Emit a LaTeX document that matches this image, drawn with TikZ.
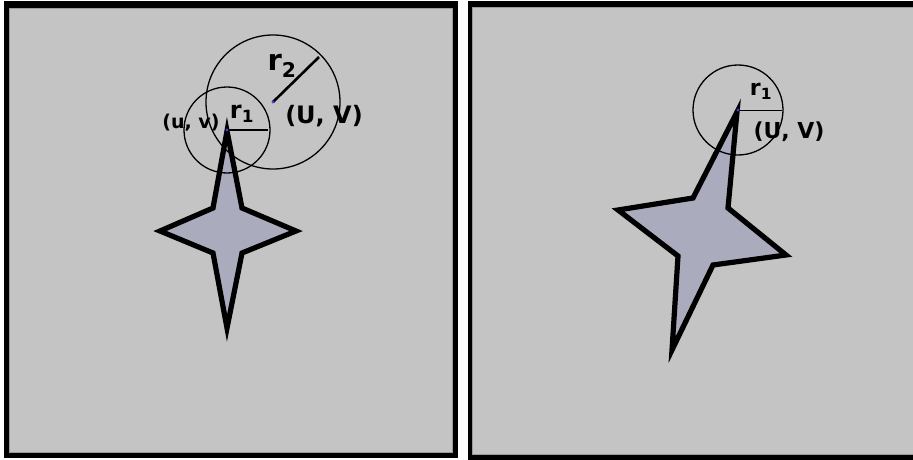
\documentclass[tikz,border=0pt]{standalone}
\usepackage{fontspec}
\setmainfont{DejaVu Sans}
\usetikzlibrary{calc}

\definecolor{panelgray}{HTML}{C4C4C4}
\definecolor{panelrim}{HTML}{9A9A9A}
\definecolor{starfill}{HTML}{AAABBC}
\definecolor{dotblue}{HTML}{4040E0}

\tikzset{
  frame/.style={fill=black},
  panel/.style={fill=panelgray,draw=panelrim,line width=0.8pt},
  star/.style={draw=black,fill=starfill,line width=5.2pt,line join=miter},
  ring/.style={draw=black,line width=1.3pt},
  rline/.style={draw=black,line width=2.6pt},
  thinrline/.style={draw=black,line width=1pt},
  dot/.style={fill=dotblue},
  lbl/.style={inner sep=0pt,font=\bfseries}
}

\begin{document}
\begin{tikzpicture}[x=1pt,y=-1pt]
  \useasboundingbox[fill=white] (0,0) rectangle (913,460);
  % left panel
  \begin{scope}
    \fill[frame] (4,1) rectangle (458,458);
    \filldraw[panel] (9,8) rectangle (452,452);
    \coordinate (uv) at (227,130);
    \coordinate (UV) at (273,102);
    \filldraw[star] (227,131) -- (242,208) -- (296,231) -- (242,253) -- (227,328)
      -- (213,253) -- (160,231) -- (213,208) -- cycle;
    \draw[ring] (uv) circle[radius=43];
    \draw[ring] (UV) circle[radius=67];
    \coordinate (r1end) at ($(uv)+(41,0)$);
    \coordinate (r2end) at ($(UV)+(46,-45)$);
    \draw[rline] (uv) -- (r1end);
    \draw[rline] (UV) -- (r2end);
    \fill[dot] (uv) circle[radius=1.6];
    \fill[dot] (UV) circle[radius=1.6];
    \node[lbl,font=\bfseries\fontsize{19}{19}\selectfont] (uvlbl) at (191,123) {(u, v)};
    \node[lbl,font=\bfseries\fontsize{24}{24}\selectfont] (r1lbl) at (242,114) {r\textsubscript{1}};
    \node[lbl,font=\bfseries\fontsize{29}{29}\selectfont] (r2lbl) at (282,66) {r\textsubscript{2}};
    \node[lbl,font=\bfseries\fontsize{24}{24}\selectfont] (UVlbl) at (324,116) {(U, V)};
  \end{scope}
  % right panel
  \begin{scope}
    \fill[frame] (468,1) rectangle (913,460);
    \filldraw[panel] (472,7) rectangle (914,454);
    \coordinate (UVb) at (738,110);
    \filldraw[star] (737,112) -- (728,208) -- (786,255) -- (713,265) -- (672,350)
      -- (678,256) -- (618,210) -- (693,198) -- cycle;
    \draw[ring] (UVb) circle[radius=45];
    \coordinate (r1bend) at ($(UVb)+(44,0)$);
    \draw[thinrline] (UVb) -- (r1bend);
    \fill[dot] (UVb) circle[radius=1.6];
    \node[lbl,font=\bfseries\fontsize{22}{22}\selectfont] (r1blbl) at (761,91) {r\textsubscript{1}};
    \node[lbl,font=\bfseries\fontsize{22}{22}\selectfont] (UVblbl) at (789,132) {(U, V)};
  \end{scope}
\end{tikzpicture}
\end{document}
